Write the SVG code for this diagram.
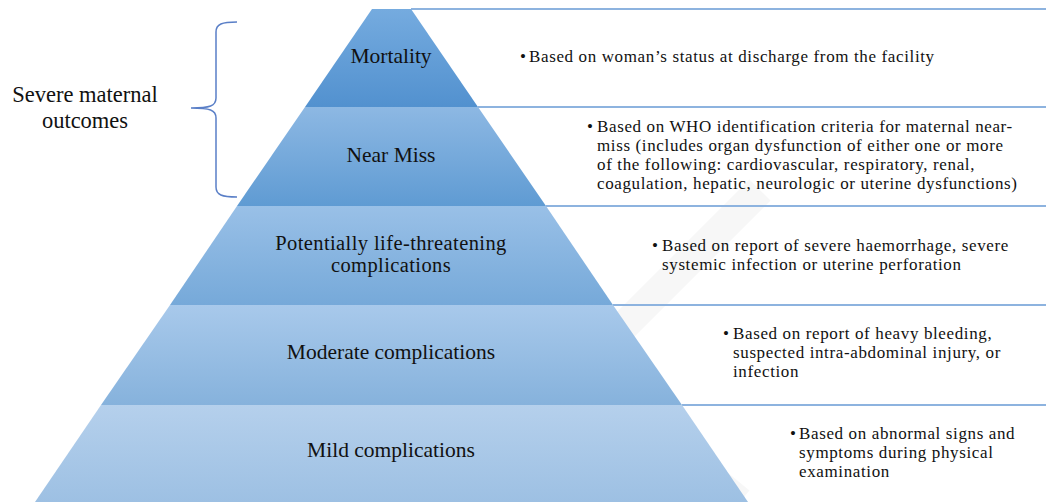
<svg xmlns="http://www.w3.org/2000/svg" width="1046" height="502" viewBox="0 0 1046 502">
<style>
text{font-family:'Liberation Serif','DejaVu Serif',serif;fill:#111}
.lbl{font-size:21.5px;text-anchor:middle}
.lbl2{font-size:20.5px;text-anchor:middle;letter-spacing:0.4px}
.side{font-size:22.5px;text-anchor:middle}
.desc{font-size:17px;letter-spacing:0.63px}
.rule{stroke:#8db3df;stroke-width:2;fill:none}
.brace{stroke:#5a7fc7;stroke-width:1.5;fill:none}
</style>
<defs>
<linearGradient id="g1" x1="0" y1="0" x2="0" y2="1"><stop offset="0" stop-color="#75abdf"/><stop offset="1" stop-color="#5291cf"/></linearGradient>
<linearGradient id="g2" x1="0" y1="0" x2="0" y2="1"><stop offset="0" stop-color="#8db8e3"/><stop offset="1" stop-color="#5f9bd3"/></linearGradient>
<linearGradient id="g3" x1="0" y1="0" x2="0" y2="1"><stop offset="0" stop-color="#99c0e7"/><stop offset="1" stop-color="#76a9d9"/></linearGradient>
<linearGradient id="g4" x1="0" y1="0" x2="0" y2="1"><stop offset="0" stop-color="#a8c9eb"/><stop offset="1" stop-color="#86b2dc"/></linearGradient>
<linearGradient id="g5" x1="0" y1="0" x2="0" y2="1"><stop offset="0" stop-color="#b5d0ec"/><stop offset="1" stop-color="#9dc0e3"/></linearGradient>
</defs>
<rect width="1046" height="502" fill="#fff"/>
<g id="watermark" fill="none" stroke="#000" stroke-opacity="0.03" stroke-width="30" stroke-linejoin="round">
<path d="M560,390 L760,190 M580,370 L740,502"/>
</g>
<g id="connectors">
<line class="rule" x1="411" y1="9" x2="1046" y2="9"/>
<line class="rule" x1="478" y1="107" x2="1046" y2="107"/>
<line class="rule" x1="546" y1="206" x2="1046" y2="206"/>
<line class="rule" x1="613" y1="305" x2="1046" y2="305"/>
<line class="rule" x1="682" y1="405" x2="1046" y2="405"/>
<path class="brace" d="M237,22 C222,22 216,24 216,32 L216,98 C216,106 210,108 191,108 C210,108 216,110 216,118 L216,187 C216,195 222,197 237,197"/>
</g>
<g id="mortality">
<polygon points="372,9 411,9 478,107 305,107" fill="url(#g1)"/>
<text class="lbl" x="391" y="63">Mortality</text>
<text class="desc" y="62"><tspan x="520">•</tspan><tspan x="529">Based on woman’s status at discharge from the facility</tspan></text>
</g>
<g id="near-miss">
<polygon points="305,107 478,107 546,206 237,206" fill="url(#g2)"/>
<text class="lbl" x="391" y="162">Near Miss</text>
<text class="desc"><tspan x="587" y="132.4">•</tspan><tspan x="597" y="132.4">Based on WHO identification criteria for maternal near-</tspan><tspan x="597" y="151.3">miss (includes organ dysfunction of either one or more</tspan><tspan x="597" y="170.2">of the following: cardiovascular, respiratory, renal,</tspan><tspan x="597" y="189.1">coagulation, hepatic, neurologic or uterine dysfunctions)</tspan></text>
</g>
<g id="potentially-life-threatening">
<polygon points="237,206 546,206 613,305 170,305" fill="url(#g3)"/>
<text class="lbl2" x="391" y="249.6">Potentially life-threatening</text>
<text class="lbl2" x="391" y="272.4">complications</text>
<text class="desc"><tspan x="652" y="250.6">•</tspan><tspan x="662" y="250.6">Based on report of severe haemorrhage, severe</tspan><tspan x="662" y="269.5">systemic infection or uterine perforation</tspan></text>
</g>
<g id="moderate">
<polygon points="170,305 613,305 682,405 101,405" fill="url(#g4)"/>
<text class="lbl" x="391" y="359">Moderate complications</text>
<text class="desc"><tspan x="723" y="339.4">•</tspan><tspan x="733" y="339.4">Based on report of heavy bleeding,</tspan><tspan x="733" y="358.3">suspected intra-abdominal injury, or</tspan><tspan x="733" y="377.2">infection</tspan></text>
</g>
<g id="mild">
<polygon points="101,405 682,405 748,502 35,502" fill="url(#g5)"/>
<text class="lbl" x="391" y="457">Mild complications</text>
<text class="desc"><tspan x="790" y="439">•</tspan><tspan x="799" y="439">Based on abnormal signs and</tspan><tspan x="799" y="457.9">symptoms during physical</tspan><tspan x="799" y="476.8">examination</tspan></text>
</g>
<g id="severe-maternal-outcomes">
<text class="side" x="85" y="102">Severe maternal</text>
<text class="side" x="85" y="128">outcomes</text>
</g>
</svg>
